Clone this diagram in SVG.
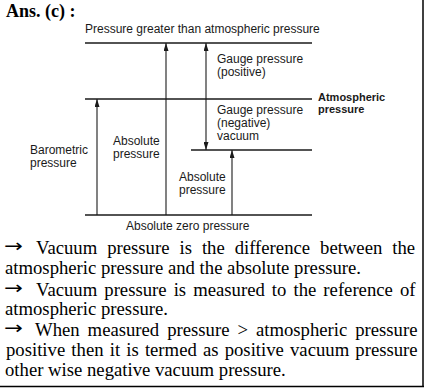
<svg xmlns="http://www.w3.org/2000/svg" width="424" height="388" viewBox="0 0 424 388">
<defs>
<marker id="ah" markerUnits="userSpaceOnUse" viewBox="0 0 8 5" refX="8" refY="2.5" markerWidth="8" markerHeight="5" orient="auto">
<path d="M0,0 L8,2.5 L0,5 z" fill="#1a1a1a"/>
</marker>
<style>
.l{stroke:#1a1a1a;stroke-width:1.3;fill:none}
.a{stroke:#1a1a1a;stroke-width:1.1;fill:none;marker-end:url(#ah)}
.s{font-family:"Liberation Sans",Arial,sans-serif;font-size:12px;fill:#1a1a1a}
.b{font-family:"Liberation Sans",Arial,sans-serif;font-size:11px;font-weight:bold;fill:#1a1a1a}
.t{font-family:"Liberation Serif","Times New Roman",serif;font-size:18.7px;fill:#000}
.r{font-family:"DejaVu Sans",sans-serif;font-size:18px;fill:#000}
.h{font-family:"Liberation Serif","Times New Roman",serif;font-size:18px;font-weight:bold;fill:#000}
</style>
</defs>
<rect width="424" height="388" fill="#fff"/>
<g id="border">
<line x1="423" y1="0" x2="423" y2="387" stroke="#000" stroke-width="1.5"/>
<line x1="0" y1="386.5" x2="424" y2="386.5" stroke="#000" stroke-width="1.5"/>
</g>
<text id="heading" class="h" x="6" y="17">Ans. (c) :</text>
<g id="levels">
<line id="top-level" class="l" x1="85" y1="43" x2="312" y2="43"/>
<line id="atm-level" class="l" x1="85" y1="99" x2="312" y2="99"/>
<line id="vac-level" class="l" x1="191" y1="150" x2="312" y2="150"/>
<line id="zero-level" class="l" x1="85" y1="215" x2="312" y2="215"/>
</g>
<g id="connectors">
<line class="a" x1="97" y1="215" x2="97" y2="99"/>
<line class="a" x1="166" y1="215" x2="166" y2="43"/>
<line class="a" x1="206" y1="99" x2="206" y2="43"/>
<line class="a" x1="206" y1="99" x2="206" y2="150"/>
<line class="a" x1="232" y1="215" x2="232" y2="150"/>
</g>
<g id="labels">
<text class="s" x="85" y="33">Pressure greater than atmospheric pressure</text>
<text class="s" x="217" y="63">Gauge pressure<tspan x="217" y="76">(positive)</tspan></text>
<text class="b" x="318" y="101">Atmospheric<tspan x="318" y="113">pressure</tspan></text>
<text class="s" x="217" y="114">Gauge pressure<tspan x="217" y="127">(negative)</tspan><tspan x="217" y="140">vacuum</tspan></text>
<text class="s" x="30" y="154">Barometric<tspan x="30" y="167">pressure</tspan></text>
<text class="s" x="113" y="145">Absolute<tspan x="113" y="158">pressure</tspan></text>
<text class="s" x="179" y="181">Absolute<tspan x="179" y="194">pressure</tspan></text>
<text class="s" x="126" y="230">Absolute zero pressure</text>
</g>
<g id="body">
<text class="r" transform="translate(4,252) scale(1.25,1)">→</text>
<text class="t" x="36" y="254" word-spacing="5.3">Vacuum pressure is the difference between the</text>
<text class="t" x="5" y="274">atmospheric pressure and the absolute pressure.</text>
<text class="r" transform="translate(4,294) scale(1.25,1)">→</text>
<text class="t" x="36" y="296" word-spacing="2.4">Vacuum pressure is measured to the reference of</text>
<text class="t" x="5" y="315">atmospheric pressure.</text>
<text class="r" transform="translate(4,334) scale(1.25,1)">→</text>
<text class="t" x="35" y="336" word-spacing="3.3">When measured pressure &gt; atmospheric pressure</text>
<text class="t" x="6" y="356" word-spacing="1.5">positive then it is termed as positive vacuum pressure</text>
<text class="t" x="5" y="376">other wise negative vacuum pressure.</text>
</g>
</svg>
